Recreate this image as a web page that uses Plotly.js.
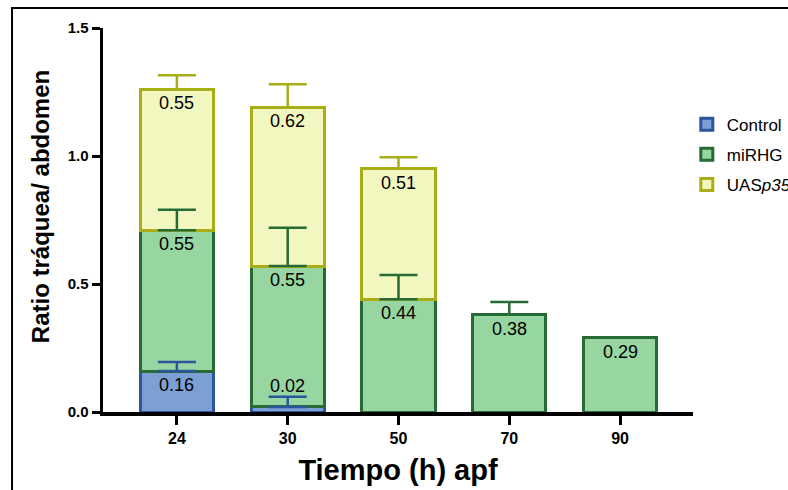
<!DOCTYPE html>
<html>
<head>
<meta charset="utf-8">
<script src="https://cdn.plot.ly/plotly-3.0.1.min.js"></script>
<style>
html,body{margin:0;padding:0;background:#fff;}
#chart{width:788px;height:490px;}
</style>
</head>
<body>
<div id="chart"></div>
<script>
const categories = ['24', '30', '50', '70', '90'];
const seriesNames = ['Control', 'miRHG', 'UAS<i>p35</i>'];
const control = [0.16, 0.02, null, null, null];
const controlErr = [0.035, 0.04, null, null, null];
const mirhg = [0.55, 0.55, 0.44, 0.38, 0.29];
const mirhgErr = [0.08, 0.15, 0.095, 0.05, 0];
const uas = [0.55, 0.62, 0.51, null, null];
const uasErr = [0.055, 0.09, 0.045, null, null];
const yTicks = [0, 0.5, 1.0, 1.5];
const xTitle = 'Tiempo (h) apf';
const yTitle = 'Ratio tráquea/ abdomen';

const FONT = 'Arial, "Liberation Sans", Helvetica, sans-serif';
const fills = ['#7c9fd4', '#97d5a1', '#f2f7bf'];
const lines = ['#2c559e', '#266b35', '#a9ad17'];
const values = [control, mirhg, uas];
const errs = [controlErr, mirhgErr, uasErr];

// stacked tops computed from the data
const bases = [];
let running = categories.map(() => 0);
values.forEach((vals) => {
  bases.push(running.slice());
  running = running.map((r, i) => r + (vals[i] == null ? 0 : vals[i]));
});

const traces = [];
values.forEach((vals, s) => {
  traces.push({
    type: 'bar',
    name: seriesNames[s],
    x: categories,
    y: vals,
    legendgroup: 'g' + s,
    marker: {color: fills[s], line: {color: lines[s], width: 3}},
    hoverinfo: 'skip'
  });
});
// error bars drawn on top of all bars
values.forEach((vals, s) => {
  const tops = vals.map((v, i) => v == null ? null : bases[s][i] + v);
  traces.push({
    type: 'scatter',
    mode: 'markers',
    x: categories,
    y: tops,
    showlegend: false,
    hoverinfo: 'skip',
    marker: {size: 1, opacity: 0},
    error_y: {
      type: 'data',
      symmetric: false,
      array: errs[s],
      arrayminus: categories.map(() => 0),
      color: lines[s],
      thickness: 2.5,
      width: 19
    }
  });
});

const annotations = [];
values.forEach((vals, s) => {
  vals.forEach((v, i) => {
    if (v == null) return;
    const top = bases[s][i] + v;
    const small = v < 0.06;
    annotations.push({
      x: i, y: top, xref: 'x', yref: 'y',
      text: v.toFixed(2), showarrow: false,
      yanchor: 'middle', yshift: small ? 21 : -14,
      font: {family: FONT, size: 18, color: '#000'}
    });
  });
});
// y-axis title (placed as in the reference, slightly above centre)
annotations.push({
  xref: 'paper', yref: 'paper', x: -0.1068, y: 0.536,
  xanchor: 'center', yanchor: 'middle', textangle: -90,
  text: yTitle, showarrow: false,
  font: {family: FONT, size: 24, weight: 'bold', color: '#000'}
});

const layout = {
  width: 788, height: 490,
  paper_bgcolor: '#fff', plot_bgcolor: '#fff',
  margin: {l: 103, r: 95, t: 28, b: 78, autoexpand: false},
  barmode: 'stack',
  bargap: 0.34,
  font: {family: FONT, color: '#000'},
  showlegend: true,
  legend: {
    x: 0.9895, y: 0.795, xanchor: 'left', yanchor: 'top',
    traceorder: 'grouped', tracegroupgap: 5,
    bgcolor: 'rgba(0,0,0,0)',
    font: {family: FONT, size: 17, color: '#000'}
  },
  xaxis: {
    type: 'category',
    range: [-0.667, 4.658],
    showline: true, linecolor: '#000', linewidth: 3.5,
    ticks: 'outside', ticklen: 9, tickwidth: 3, tickcolor: '#000',
    showgrid: false, zeroline: false,
    tickfont: {family: FONT, size: 16, weight: 'bold', color: '#000'},
    title: {text: xTitle, standoff: 15,
            font: {family: FONT, size: 29, weight: 'bold', color: '#000'}}
  },
  yaxis: {
    range: [0, 1.5],
    tickvals: yTicks,
    tickformat: '.1f',
    showline: true, linecolor: '#000', linewidth: 3.5,
    ticks: 'outside', ticklen: 8, tickwidth: 3, tickcolor: '#000',
    showgrid: false, zeroline: false,
    tickfont: {family: FONT, size: 15, weight: 'bold', color: '#000'}
  },
  annotations: annotations,
  shapes: [{
    type: 'rect', xref: 'paper', yref: 'paper',
    x0: -0.1542, x1: 1.3, y0: -0.3, y1: 1.052,
    line: {color: '#000', width: 2}, fillcolor: 'rgba(0,0,0,0)', layer: 'below'
  }]
};

Plotly.newPlot('chart', traces, layout, {displayModeBar: false, staticPlot: true});
</script>
</body>
</html>
